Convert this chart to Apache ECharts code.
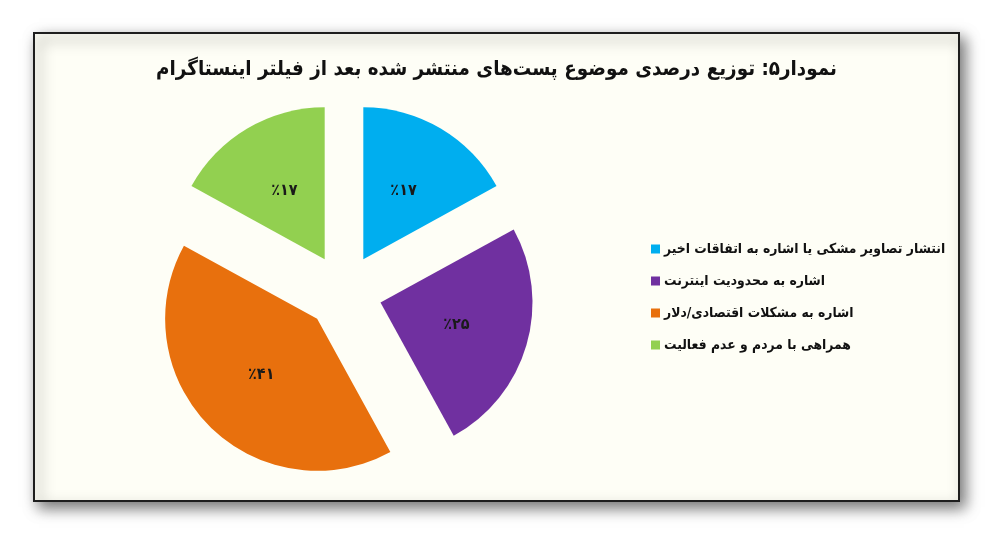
<!DOCTYPE html>
<html lang="fa">
<head>
    <meta charset="UTF-8">
    <title>نمودار۵</title>
    <script src="https://cdn.jsdelivr.net/npm/echarts@6/dist/echarts.min.js"></script>
    <style>
        html, body { margin: 0; padding: 0; background: #ffffff; }
    </style>
</head>
<body>
<div id="main" style="width: 993px;height:536px;"></div>

<script type="text/javascript">
    // داده‌های نمودار
    var chartTitle = 'نمودار۵: توزیع درصدی موضوع پست‌های منتشر شده بعد از فیلتر اینستاگرام';
    var categories = [
        'انتشار تصاویر مشکی یا اشاره به اتفاقات اخیر',
        'اشاره به محدودیت اینترنت',
        'اشاره به مشکلات اقتصادی/دلار',
        'همراهی با مردم و عدم فعالیت'
    ];
    var values = [17, 25, 41, 17];
    var colors = ['#00AEEF', '#7030A0', '#E8700D', '#92D050'];
    var offsets = [37, 40, 40, 37];

    var fontName = '"DejaVu Sans Condensed", "DejaVu Sans", sans-serif';
    var faDigits = '۰۱۲۳۴۵۶۷۸۹';
    function toFa(n) {
        return String(n).replace(/[0-9]/g, function (d) { return faDigits[+d]; });
    }

    var pieData = categories.map(function (name, i) {
        return {
            name: name,
            value: values[i],
            selected: true,
            selectedOffset: offsets[i],
            itemStyle: { color: colors[i] }
        };
    });

    var myChart = echarts.init(document.getElementById('main'));
    var option = {
        backgroundColor: '#ffffff',
        graphic: [
            {
                type: 'rect',
                z: -10,
                shape: { x: 34, y: 33, width: 925, height: 468 },
                style: {
                    fill: '#FEFEF6',
                    stroke: '#1e1e1e',
                    lineWidth: 2,
                    shadowBlur: 14,
                    shadowOffsetX: 5,
                    shadowOffsetY: 6,
                    shadowColor: 'rgba(0,0,0,0.55)'
                }
            }
        ],
        title: {
            text: chartTitle,
            left: 'center',
            top: 55,
            textStyle: {
                fontFamily: fontName,
                fontWeight: 'bold',
                fontSize: 20.4,
                color: '#111111'
            }
        },
        legend: {
            orient: 'vertical',
            left: 651,
            top: 242,
            padding: 0,
            icon: 'rect',
            itemWidth: 9,
            itemHeight: 9,
            itemGap: 18,
            selectedMode: false,
            textStyle: {
                fontFamily: fontName,
                fontWeight: 'bold',
                fontSize: 13.8,
                color: '#111111',
                padding: [0, 0, 0, -1]
            },
            data: categories
        },
        series: [
            {
                type: 'pie',
                center: [344, 292],
                radius: [0, 152],
                startAngle: 90,
                clockwise: true,
                selectedMode: 'multiple',
                selectedOffset: 38,
                animation: false,
                emphasis: { disabled: true },
                label: {
                    show: true,
                    position: 'inside',
                    formatter: function (p) { return '٪' + toFa(p.value); },
                    fontFamily: fontName,
                    fontWeight: 'bold',
                    fontSize: 16,
                    color: '#1a1a1a'
                },
                labelLine: { show: false },
                data: pieData
            }
        ]
    };
    myChart.setOption(option);
</script>
</body>
</html>
